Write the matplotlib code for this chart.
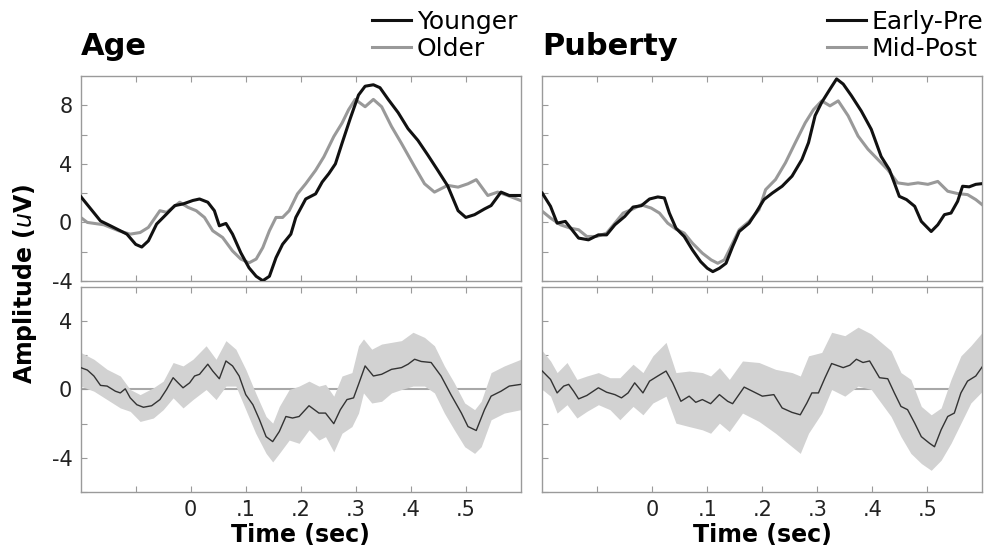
import numpy as np
import matplotlib
matplotlib.use('Agg')
import matplotlib.pyplot as plt

# ---- top left: Age group averages (time in sec, amplitude in uV)
age_young_t = [-0.200, -0.164, -0.146, -0.128, -0.116, -0.100, -0.089, -0.077, -0.062, -0.044,
               -0.029, -0.014, 0.004, 0.016, 0.031, 0.043, 0.052, 0.064, 0.076, 0.091,
               0.106, 0.119, 0.131, 0.143, 0.155, 0.167, 0.182, 0.191, 0.209, 0.227,
               0.239, 0.251, 0.263, 0.275, 0.290, 0.305, 0.317, 0.332, 0.344, 0.359,
               0.377, 0.395, 0.413, 0.431, 0.449, 0.467, 0.486, 0.500, 0.516, 0.534,
               0.546, 0.564, 0.579, 0.600]
age_young_v = [1.77, 0.10, -0.23, -0.57, -0.80, -1.50, -1.68, -1.26, -0.11, 0.57,
               1.15, 1.26, 1.50, 1.60, 1.38, 0.80, -0.23, -0.07, -0.80, -2.07,
               -3.10, -3.68, -3.98, -3.68, -2.41, -1.49, -0.80, 0.34, 1.60, 1.95,
               2.76, 3.33, 4.00, 5.40, 7.10, 8.70, 9.30, 9.40, 9.20, 8.40,
               7.50, 6.40, 5.60, 4.60, 3.56, 2.50, 0.80, 0.34, 0.53, 0.92,
               1.15, 2.07, 1.84, 1.84]
age_old_t = [-0.200, -0.188, -0.158, -0.131, -0.110, -0.092, -0.077, -0.056, -0.044, -0.032,
             -0.020, -0.005, 0.010, 0.025, 0.040, 0.058, 0.076, 0.091, 0.106, 0.119,
             0.131, 0.143, 0.155, 0.167, 0.179, 0.194, 0.209, 0.227, 0.242, 0.260,
             0.275, 0.287, 0.299, 0.317, 0.332, 0.347, 0.365, 0.383, 0.407, 0.425,
             0.443, 0.467, 0.486, 0.504, 0.519, 0.540, 0.558, 0.576, 0.600]
age_old_v = [0.34, 0.00, -0.16, -0.57, -0.80, -0.69, -0.34, 0.80, 0.69, 1.03,
             1.38, 1.03, 0.80, 0.34, -0.57, -1.03, -1.95, -2.50, -2.76, -2.50,
             -1.72, -0.57, 0.34, 0.34, 0.80, 1.95, 2.64, 3.56, 4.48, 5.86,
             6.78, 7.70, 8.40, 7.90, 8.40, 7.90, 6.55, 5.40, 3.80, 2.64,
             2.07, 2.53, 2.41, 2.64, 2.92, 1.84, 2.07, 1.84, 1.49]

# ---- top right: Puberty group averages
pub_early_t = [-0.200, -0.185, -0.173, -0.158, -0.146, -0.134, -0.116, -0.098, -0.083, -0.068,
               -0.050, -0.035, -0.020, -0.005, 0.010, 0.022, 0.031, 0.043, 0.058, 0.073,
               0.088, 0.100, 0.110, 0.122, 0.134, 0.146, 0.158, 0.176, 0.188, 0.203,
               0.218, 0.236, 0.254, 0.272, 0.284, 0.296, 0.308, 0.323, 0.335, 0.347,
               0.362, 0.380, 0.398, 0.416, 0.431, 0.440, 0.449, 0.462, 0.477, 0.489,
               0.507, 0.519, 0.531, 0.543, 0.555, 0.564, 0.576, 0.588, 0.600]
pub_early_v = [2.00, 1.10, -0.05, 0.07, -0.50, -1.07, -1.19, -0.85, -0.85, -0.16,
               0.41, 1.05, 1.14, 1.60, 1.74, 1.67, 0.64, -0.39, -0.96, -1.88,
               -2.68, -3.13, -3.36, -3.13, -2.79, -1.65, -0.62, -0.05, 0.64, 1.56,
               2.00, 2.47, 3.16, 4.30, 5.45, 7.30, 8.20, 9.10, 9.80, 9.45,
               8.65, 7.60, 6.36, 4.50, 3.60, 2.70, 1.78, 1.56, 1.10, 0.07,
               -0.62, -0.16, 0.53, 0.64, 1.44, 2.47, 2.43, 2.60, 2.65]
pub_mid_t = [-0.200, -0.185, -0.167, -0.149, -0.134, -0.119, -0.101, -0.083, -0.068, -0.053,
             -0.038, -0.020, -0.002, 0.013, 0.028, 0.043, 0.058, 0.073, 0.091, 0.107,
             0.119, 0.131, 0.143, 0.158, 0.176, 0.194, 0.206, 0.224, 0.242, 0.260,
             0.278, 0.293, 0.308, 0.323, 0.338, 0.356, 0.374, 0.392, 0.410, 0.428,
             0.446, 0.465, 0.483, 0.501, 0.519, 0.537, 0.555, 0.573, 0.588, 0.600]
pub_mid_v = [0.76, 0.30, -0.16, -0.39, -0.50, -0.96, -0.96, -0.73, -0.05, 0.64,
             0.87, 1.20, 0.98, 0.64, -0.05, -0.46, -0.73, -1.42, -2.10, -2.56,
             -2.79, -2.56, -1.65, -0.50, 0.07, 0.87, 2.24, 2.93, 4.07, 5.45,
             6.80, 7.70, 8.30, 7.96, 8.30, 7.28, 5.90, 5.00, 4.30, 3.60,
             2.70, 2.60, 2.70, 2.60, 2.80, 2.13, 1.97, 1.90, 1.56, 1.20]

# ---- bottom left: Age difference wave with confidence band
age_diff_t = [-0.200, -0.188, -0.176, -0.164, -0.152, -0.137, -0.128, -0.119, -0.110, -0.098,
              -0.086, -0.071, -0.056, -0.044, -0.032, -0.023, -0.014, -0.002, 0.007, 0.016,
              0.031, 0.040, 0.052, 0.064, 0.076, 0.088, 0.100, 0.113, 0.125, 0.137,
              0.149, 0.161, 0.173, 0.185, 0.197, 0.215, 0.233, 0.245, 0.260, 0.272,
              0.284, 0.296, 0.305, 0.317, 0.332, 0.347, 0.365, 0.383, 0.395, 0.407,
              0.419, 0.437, 0.455, 0.473, 0.492, 0.504, 0.519, 0.534, 0.546, 0.564,
              0.579, 0.600]
age_diff_v = [1.28, 1.14, 0.79, 0.24, 0.20, -0.10, -0.20, 0.04, -0.49, -0.89,
              -1.04, -0.95, -0.59, 0.00, 0.69, 0.39, 0.10, 0.39, 0.79, 0.89,
              1.48, 1.08, 0.63, 1.67, 1.38, 0.79, -0.30, -0.89, -1.77, -2.76,
              -3.05, -2.46, -1.58, -1.67, -1.58, -0.95, -1.38, -1.38, -2.00, -1.18,
              -0.59, -0.49, 0.30, 1.38, 0.79, 0.89, 1.18, 1.28, 1.48, 1.77,
              1.64, 1.58, 0.79, -0.30, -1.38, -2.17, -2.40, -1.18, -0.39, -0.10,
              0.20, 0.30]
age_band_t = [-0.200, -0.176, -0.152, -0.128, -0.110, -0.092, -0.068, -0.050, -0.032, -0.014,
              0.004, 0.028, 0.046, 0.064, 0.082, 0.100, 0.118, 0.137, 0.149, 0.161,
              0.179, 0.197, 0.215, 0.233, 0.245, 0.260, 0.275, 0.293, 0.305, 0.314,
              0.329, 0.347, 0.365, 0.383, 0.404, 0.425, 0.443, 0.461, 0.479, 0.498,
              0.516, 0.528, 0.546, 0.570, 0.600]
age_band_hi = [2.17, 1.77, 1.18, 0.79, 0.00, -0.30, 0.10, 0.49, 1.58, 1.38,
               1.77, 2.56, 1.77, 2.86, 2.36, 1.18, -0.20, -1.58, -1.97, -0.99,
               0.00, 0.20, 0.49, 0.20, 0.30, -0.39, 0.79, 0.99, 2.56, 2.96,
               2.36, 2.66, 2.76, 2.86, 3.35, 3.05, 2.56, 1.38, 0.39, -0.79,
               -1.18, -0.69, 0.99, 1.38, 1.77]
age_band_lo = [0.20, -0.10, -0.59, -1.08, -1.28, -1.87, -1.67, -1.18, -0.49, -1.08,
               -0.59, 0.00, -0.59, 0.20, 0.20, -1.18, -2.56, -3.74, -4.24, -3.74,
               -2.96, -3.15, -2.36, -2.96, -2.76, -3.65, -2.56, -2.17, -1.38, -0.20,
               -0.79, -0.69, -0.20, 0.00, 0.20, 0.20, -0.20, -1.38, -2.36, -3.35,
               -3.74, -3.35, -1.77, -1.38, -1.18]

# ---- bottom right: Puberty difference wave with confidence band
pub_diff_t = [-0.200, -0.185, -0.173, -0.161, -0.152, -0.143, -0.134, -0.119, -0.098, -0.083,
              -0.068, -0.056, -0.044, -0.032, -0.017, -0.005, 0.010, 0.025, 0.037, 0.052,
              0.067, 0.079, 0.091, 0.106, 0.122, 0.137, 0.146, 0.167, 0.182, 0.200,
              0.221, 0.236, 0.254, 0.269, 0.281, 0.290, 0.302, 0.314, 0.326, 0.347,
              0.359, 0.371, 0.383, 0.395, 0.413, 0.428, 0.440, 0.452, 0.464, 0.477,
              0.489, 0.504, 0.513, 0.525, 0.537, 0.549, 0.561, 0.573, 0.588, 0.600]
pub_diff_v = [1.08, 0.59, -0.20, 0.20, 0.30, -0.10, -0.55, -0.35, 0.10, -0.16,
              -0.30, -0.49, -0.20, 0.39, -0.20, 0.49, 0.79, 1.08, 0.39, -0.69,
              -0.39, -0.75, -0.59, -0.83, -0.30, -0.69, -0.83, 0.14, -0.10, -0.39,
              -0.30, -1.08, -1.34, -1.48, -0.79, -0.20, -0.20, 0.69, 1.52, 1.28,
              1.42, 1.77, 1.58, 1.67, 0.69, 0.63, -0.20, -0.99, -1.18, -1.97,
              -2.76, -3.15, -3.35, -2.36, -1.58, -1.38, -0.20, 0.49, 0.79, 1.34]
pub_band_t = [-0.200, -0.185, -0.173, -0.155, -0.137, -0.119, -0.098, -0.077, -0.059, -0.035,
              -0.017, 0.001, 0.025, 0.043, 0.067, 0.091, 0.106, 0.122, 0.140, 0.164,
              0.194, 0.224, 0.254, 0.269, 0.284, 0.308, 0.326, 0.350, 0.374, 0.398,
              0.416, 0.434, 0.452, 0.470, 0.489, 0.507, 0.525, 0.543, 0.561, 0.579,
              0.600]
pub_band_hi = [2.27, 1.67, 0.99, 1.58, 0.59, 0.79, 0.99, 0.69, 0.69, 1.48,
               0.99, 1.97, 2.76, 0.99, 1.08, 0.99, 0.79, 1.28, 0.59, 1.67,
               1.58, 1.18, 0.99, 0.79, 1.97, 2.17, 3.35, 3.15, 3.65, 3.25,
               2.76, 2.27, 0.99, 0.59, -0.99, -1.48, -1.08, 0.59, 1.97, 2.56,
               3.35]
pub_band_lo = [0.00, -0.39, -1.38, -0.89, -1.67, -1.28, -0.89, -1.18, -1.77, -0.99,
               -1.48, -0.79, -0.39, -1.97, -2.17, -2.36, -2.56, -1.97, -2.46, -1.38,
               -1.87, -2.56, -3.35, -3.74, -2.56, -1.38, 0.00, -0.39, 0.20, 0.00,
               -0.79, -1.58, -2.76, -3.74, -4.33, -4.73, -4.14, -3.15, -1.97, -0.79,
               -0.10]

plt.rcParams['font.family'] = 'DejaVu Sans'
spine_col = '#9a9a9a'
black = '#111111'
gray = '#999999'

fig = plt.figure(figsize=(9.89, 5.55), dpi=100)
W = 0.445
H = 0.3694
ax_tl = fig.add_axes([0.0816, 0.4937, W, H])
ax_tr = fig.add_axes([0.5483, 0.4937, W, H])
ax_bl = fig.add_axes([0.0816, 0.1135, W, H])
ax_br = fig.add_axes([0.5483, 0.1135, W, H])

xticks = [-0.1, 0.0, 0.1, 0.2, 0.3, 0.4, 0.5]
xlabels = ['', '0', '.1', '.2', '.3', '.4', '.5']


def style(ax, ylim, yticks, ylabels, show_x):
    ax.set_xlim(-0.2, 0.6)
    ax.set_ylim(*ylim)
    ax.set_yticks(yticks)
    ax.set_yticklabels(ylabels)
    ax.set_xticks(xticks)
    ax.set_xticklabels(xlabels if show_x else [''] * len(xticks))
    ax.tick_params(direction='in', length=4, width=0.8, colors=spine_col,
                   labelcolor='#222222', labelsize=15, pad=6, top=True)
    for s in ax.spines.values():
        s.set_color(spine_col)
        s.set_linewidth(1.0)


# top row
ax_tl.plot(age_young_t, age_young_v, color=black, lw=2.2, label='Younger', zorder=3)
ax_tl.plot(age_old_t, age_old_v, color=gray, lw=2.2, label='Older', zorder=2)
ax_tr.plot(pub_early_t, pub_early_v, color=black, lw=2.2, label='Early-Pre', zorder=3)
ax_tr.plot(pub_mid_t, pub_mid_v, color=gray, lw=2.2, label='Mid-Post', zorder=2)

style(ax_tl, (-4, 10), [-4, -2, 0, 2, 4, 6, 8], ['-4', '', '0', '', '4', '', '8'], False)
style(ax_tr, (-4, 10), [-4, -2, 0, 2, 4, 6, 8], [''] * 7, False)

# bottom row
for ax, t, v, bt, hi, lo in [(ax_bl, age_diff_t, age_diff_v, age_band_t, age_band_hi, age_band_lo),
                             (ax_br, pub_diff_t, pub_diff_v, pub_band_t, pub_band_hi, pub_band_lo)]:
    ax.axhline(0, color='#a8a8a8', lw=1.5, zorder=1)
    ax.fill_between(bt, lo, hi, color='#d2d2d2', lw=0, zorder=2)
    ax.plot(t, v, color='#333333', lw=1.0, zorder=3)
    ax.set_xlabel('Time (sec)', fontsize=17, fontweight='bold', labelpad=2)

style(ax_bl, (-6, 6), [-6, -4, -2, 0, 2, 4], ['', '-4', '', '0', '', '4'], True)
style(ax_br, (-6, 6), [-6, -4, -2, 0, 2, 4], [''] * 6, True)

# titles and legends
for ax, title, anchor_x in [(ax_tl, 'Age', 0.992), (ax_tr, 'Puberty', 1.003)]:
    ax.text(0.0, 1.1, title, transform=ax.transAxes, fontsize=22, fontweight='bold',
            ha='left', va='baseline')
    ax.legend(loc='lower right', bbox_to_anchor=(anchor_x, 1.075), frameon=False, fontsize=18,
              handlelength=1.55, handletextpad=0.25, labelspacing=0.12, borderpad=0.0,
              borderaxespad=0.0)

fig.text(0.025, 0.488, 'Amplitude ($\\mathbf{\\mathit{u}}$V)', rotation=90, fontsize=17,
         fontweight='bold', ha='center', va='center')

fig.savefig('out.png', dpi=100)
